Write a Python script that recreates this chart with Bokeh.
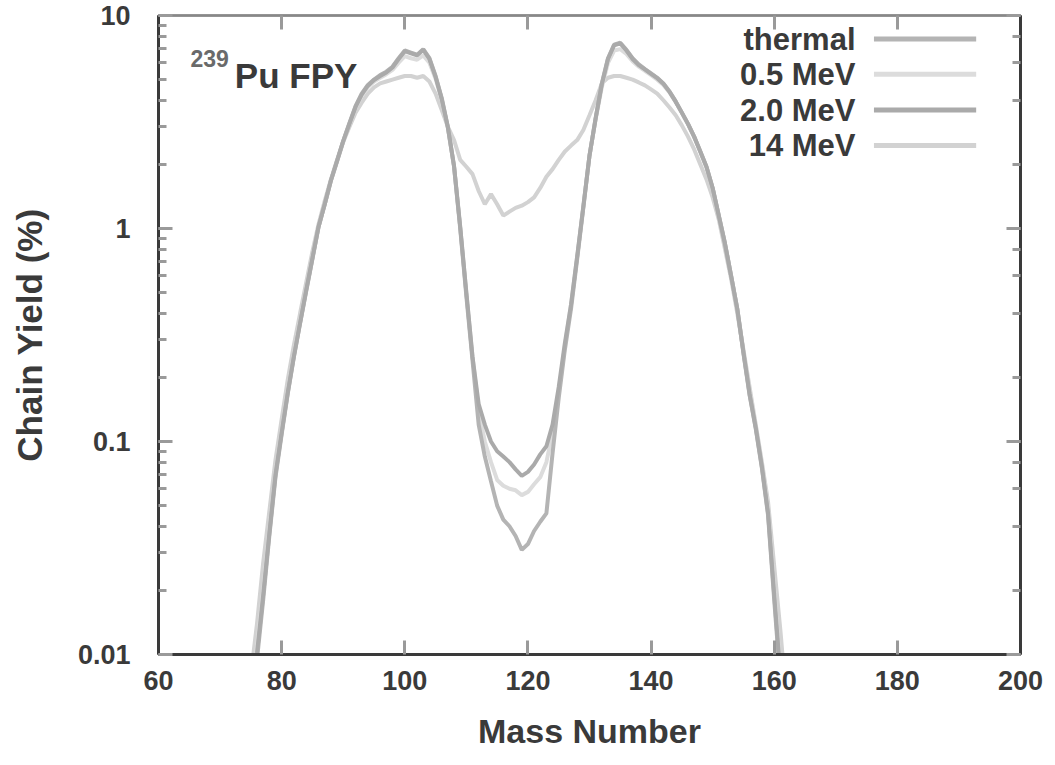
from bokeh.plotting import figure
from bokeh.models import LogAxis, LinearAxis, Label, CustomJSTickFormatter, FixedTicker, LogTicker
from bokeh.embed import file_html
from bokeh.resources import INLINE

# ---------------- data ----------------
mass = list(range(74, 164))

thermal = [0.003, 0.005, 0.0095, 0.018, 0.036, 0.068, 0.108, 0.168, 0.25, 0.36,
           0.51, 0.72, 1.02, 1.3, 1.68, 2.08, 2.58, 3.12, 3.75, 4.3,
           4.72, 5.0, 5.25, 5.45, 5.75, 6.3, 6.85, 6.7, 6.55, 6.95,
           6.3, 5.2, 4.1, 3.0, 1.95, 1.0, 0.48, 0.24, 0.12, 0.085,
           0.065, 0.05, 0.043, 0.04, 0.036, 0.031, 0.033, 0.038, 0.042, 0.046,
           0.088, 0.16, 0.27, 0.42, 0.72, 1.25, 2.2, 3.3, 4.8, 6.3,
           7.3, 7.45, 6.9, 6.3, 5.9, 5.6, 5.35, 5.1, 4.8, 4.4,
           3.95, 3.5, 3.1, 2.7, 2.3, 1.95, 1.55, 1.15, 0.85, 0.6,
           0.42, 0.26, 0.165, 0.115, 0.075, 0.045, 0.018, 0.0075, 0.0035, 0.0015]

mev05 = [0.0035, 0.0062, 0.011, 0.02, 0.038, 0.071, 0.111, 0.173, 0.255, 0.365,
         0.52, 0.73, 1.02, 1.3, 1.67, 2.06, 2.55, 3.08, 3.68, 4.2,
         4.6, 4.9, 5.1, 5.3, 5.55, 6.0, 6.45, 6.3, 6.2, 6.5,
         6.0, 5.05, 4.0, 2.95, 1.95, 1.02, 0.5, 0.25, 0.14, 0.1,
         0.08, 0.066, 0.062, 0.06, 0.059, 0.056, 0.058, 0.063, 0.068, 0.08,
         0.11, 0.17, 0.28, 0.44, 0.74, 1.28, 2.2, 3.25, 4.6, 6.0,
         6.85, 6.95, 6.6, 6.1, 5.75, 5.5, 5.25, 5.0, 4.72, 4.35,
         3.92, 3.48, 3.08, 2.68, 2.28, 1.93, 1.54, 1.15, 0.85, 0.6,
         0.42, 0.265, 0.17, 0.118, 0.078, 0.048, 0.02, 0.0085, 0.004, 0.0017]

mev20 = [0.0032, 0.0058, 0.0102, 0.019, 0.037, 0.07, 0.11, 0.17, 0.252, 0.36,
         0.515, 0.725, 1.02, 1.3, 1.68, 2.07, 2.57, 3.1, 3.72, 4.25,
         4.68, 4.98, 5.2, 5.4, 5.7, 6.25, 6.8, 6.65, 6.5, 6.9,
         6.25, 5.15, 4.05, 2.98, 1.97, 1.02, 0.5, 0.25, 0.15, 0.12,
         0.1, 0.09, 0.085, 0.08, 0.074, 0.069, 0.072, 0.078, 0.087, 0.095,
         0.12, 0.18, 0.29, 0.44, 0.74, 1.27, 2.2, 3.3, 4.75, 6.25,
         7.25, 7.4, 6.85, 6.25, 5.85, 5.58, 5.32, 5.08, 4.78, 4.38,
         3.94, 3.5, 3.1, 2.7, 2.3, 1.95, 1.55, 1.15, 0.85, 0.6,
         0.42, 0.262, 0.167, 0.116, 0.076, 0.046, 0.019, 0.008, 0.0037, 0.0016]

mev14 = [0.0045, 0.008, 0.014, 0.027, 0.047, 0.082, 0.127, 0.196, 0.285, 0.4,
         0.56, 0.78, 1.05, 1.35, 1.7, 2.1, 2.55, 3.0, 3.5, 3.9,
         4.3, 4.6, 4.8, 4.9, 5.0, 5.1, 5.2, 5.2, 5.1, 5.2,
         4.9, 4.3, 3.6, 3.0, 2.6, 2.1, 1.95, 1.8, 1.5, 1.3,
         1.45, 1.3, 1.15, 1.2, 1.25, 1.28, 1.33, 1.4, 1.55, 1.75,
         1.9, 2.1, 2.3, 2.45, 2.6, 2.9, 3.4, 4.0, 4.8, 5.1,
         5.2, 5.2, 5.1, 5.0, 4.85, 4.7, 4.5, 4.3, 4.0, 3.7,
         3.4, 3.05, 2.7, 2.35, 2.0, 1.7, 1.4, 1.1, 0.8, 0.58,
         0.4, 0.27, 0.18, 0.12, 0.08, 0.052, 0.026, 0.013, 0.006, 0.003]

series_names = ["thermal", "0.5 MeV", "2.0 MeV", "14 MeV"]
series_values = [thermal, mev05, mev20, mev14]
series_colors = ["#b4b4b4", "#dcdcdc", "#aaaaaa", "#d2d2d2"]

x_ticks = [60, 80, 100, 120, 140, 160, 180, 200]

# ---------------- figure ----------------
FONT = "Liberation Sans"
TXT = "#3a3a3a"

p = figure(width=1046, height=757, x_range=(60, 200), y_range=(0.01, 10),
           y_axis_type="log", output_backend="svg", toolbar_location=None,
           min_border_left=158, min_border_right=26, min_border_top=15,
           min_border_bottom=103)
p.xgrid.visible = False
p.ygrid.visible = False
p.outline_line_color = "#444444"
p.outline_line_width = 2
p.background_fill_color = "white"
p.border_fill_color = "white"

def style_axis(ax, labels=True):
    ax.axis_line_color = "#3a3a3a"
    ax.axis_line_width = 3
    ax.major_tick_in = 14
    ax.major_tick_out = 0
    ax.minor_tick_in = 8
    ax.minor_tick_out = 0
    ax.major_tick_line_color = "#9a9a9a"
    ax.major_tick_line_width = 3
    ax.minor_tick_line_color = "#9a9a9a"
    ax.minor_tick_line_width = 3
    if labels:
        ax.major_label_text_font = FONT
        ax.major_label_text_font_size = "27px"
        ax.major_label_text_font_style = "bold"
        ax.major_label_text_color = TXT
        ax.axis_label_text_font = FONT
        ax.axis_label_text_font_size = "34px"
        ax.axis_label_text_font_style = "bold"
        ax.axis_label_text_color = TXT
    else:
        ax.formatter = CustomJSTickFormatter(code="return '';")
        ax.major_label_standoff = 0

p.xaxis.ticker = FixedTicker(ticks=x_ticks)
p.xaxis.minor_tick_line_color = None
p.xaxis.axis_label = "Mass Number"
p.yaxis.axis_label = "Chain Yield (%)"
p.yaxis.formatter = CustomJSTickFormatter(code="return String(tick);")
style_axis(p.xaxis[0])
style_axis(p.yaxis[0])
p.yaxis.axis_label_text_font_size = "35px"
p.xaxis.major_label_standoff = 16
p.xaxis.axis_label_standoff = 19
p.yaxis.major_label_standoff = 28
p.yaxis.axis_label_standoff = 26

top_ax = LinearAxis(ticker=FixedTicker(ticks=x_ticks))
style_axis(top_ax, labels=False)
top_ax.minor_tick_line_color = None
top_ax.axis_line_width = 2
top_ax.axis_line_color = "#888888"
p.add_layout(top_ax, "above")

right_ax = LogAxis(ticker=LogTicker())
style_axis(right_ax, labels=False)
p.add_layout(right_ax, "right")

# ---------------- curves ----------------
draw_order = [3, 1, 0, 2]
for i in draw_order:
    p.line(mass, series_values[i], line_color=series_colors[i], line_width=4)

# ---------------- legend (gnuplot style: text, then sample) ----------------
LEG_TEXT_X = 173.2
LEG_X0, LEG_X1 = 176.2, 192.8
LEG_ROWS = [7.75, 5.3, 3.6, 2.45]
for name, color, ry in zip(series_names, series_colors, LEG_ROWS):
    p.add_layout(Label(x=LEG_TEXT_X, y=ry, text=name, text_align="right",
                       text_baseline="middle", text_font=FONT,
                       text_font_size="31px", text_font_style="bold",
                       text_color=TXT))
    p.line([LEG_X0, LEG_X1], [ry, ry], line_color=color, line_width=5)

# ---------------- title ----------------
p.add_layout(Label(x=65.2, y=6.3, text="239", text_font=FONT,
                   text_font_size="23px", text_font_style="bold",
                   text_color="#6a6a6a", text_baseline="alphabetic"))
p.add_layout(Label(x=72.4, y=5.2, text="Pu FPY", text_font=FONT,
                   text_font_size="35px", text_font_style="bold",
                   text_color=TXT, text_baseline="alphabetic"))

open("out.html", "w").write(file_html(p, INLINE))
